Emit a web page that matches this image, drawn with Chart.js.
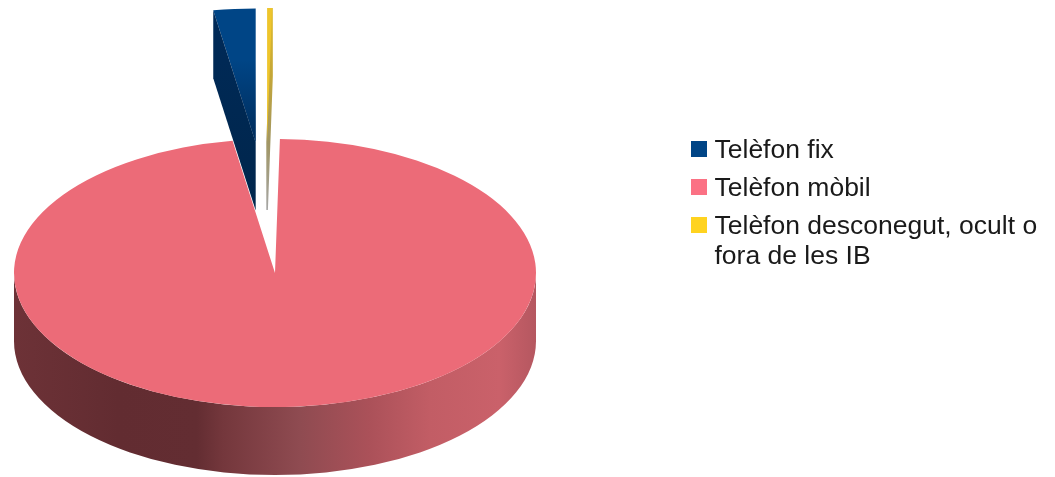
<!DOCTYPE html>
<html>
<head>
<meta charset="utf-8">
<script src="https://cdn.jsdelivr.net/npm/chart.js@4"></script>
<style>
  html, body { margin: 0; padding: 0; background: #fff; }
  canvas { display: block; }
</style>
</head>
<body>
<canvas id="pie" width="1055" height="477"></canvas>
<script>
// Share of calls by phone type (percent)
const categories = ['Telèfon fix', 'Telèfon mòbil', ['Telèfon desconegut, ocult o', 'fora de les IB']];
const shares = [2.6, 97.1, 0.3];
const faceColors = ['#004586', '#ec6b78', '#eec52c'];
const swatchColors = ['#004586', '#fb7184', '#ffd320'];

// Projection of the tilted disc
const discBox = { left: 14, right: 536, top: 12, bottom: 534 };
const tilt = 0.5134;
const depth = 68;
const explode = [255, 0, 255];
const drift = [1.5, 0, -10.3];
const legendAnchor = { left: 696.75, top: 137.25 };

// Legend marker: the square sits at the top so it lines up with the first text line
function swatch(color) {
  const c = document.createElement('canvas');
  c.width = 16; c.height = 19;
  const g = c.getContext('2d');
  g.fillStyle = color;
  g.fillRect(0, 0, 16, 16);
  return c;
}

// Straight cut face of a pulled-out wedge, extruded from one of its edges
function drawCutFace(ctx, arc, i, cx, cy, edgeAngle, colors, outline) {
  const mid = (arc.startAngle + arc.endAngle) / 2;
  const tipX = cx - Math.cos(mid) * explode[i] + drift[i];
  const tipY = cy + Math.sin(mid) * explode[i] * tilt;
  const rimX = tipX - Math.cos(edgeAngle) * arc.outerRadius;
  const rimY = tipY + Math.sin(edgeAngle) * arc.outerRadius * tilt;
  const g = ctx.createLinearGradient(0, rimY, 0, tipY + depth);
  colors.forEach((c, k) => g.addColorStop(k / (colors.length - 1), c));
  ctx.fillStyle = g;
  ctx.beginPath();
  ctx.moveTo(rimX, rimY);
  ctx.lineTo(rimX, rimY + depth);
  ctx.lineTo(tipX, tipY + depth);
  ctx.lineTo(tipX, tipY);
  ctx.closePath();
  ctx.fill();
  if (outline) {
    ctx.strokeStyle = g;
    ctx.lineWidth = outline;
    ctx.stroke();
  }
}

// Top face of a wedge darkens towards its point
function shadeTowardsTip(ctx, arc, i, cx, cy) {
  const mid = (arc.startAngle + arc.endAngle) / 2;
  const tipX = cx - Math.cos(mid) * explode[i] + drift[i];
  const tipY = cy + Math.sin(mid) * explode[i] * tilt;
  const rimX = tipX - Math.cos(arc.endAngle) * arc.outerRadius;
  const rimY = tipY + Math.sin(arc.endAngle) * arc.outerRadius * tilt;
  const g = ctx.createLinearGradient(0, rimY + 50, 0, tipY);
  g.addColorStop(0, 'rgba(0,35,75,0)');
  g.addColorStop(1, 'rgba(0,35,75,0.75)');
  ctx.fillStyle = g;
  ctx.beginPath();
  ctx.moveTo(rimX, rimY);
  ctx.lineTo(tipX, rimY);
  ctx.lineTo(tipX, tipY);
  ctx.closePath();
  ctx.fill();
}

// Curved front wall of the main slice
function drawRim(ctx, arc) {
  const cx = arc.x, cy = arc.y, rx = arc.outerRadius, ry = rx * tilt;
  const g = ctx.createLinearGradient(cx - rx, 0, cx + rx, 0);
  g.addColorStop(0, '#6d3237');
  g.addColorStop(0.2, '#622c31');
  g.addColorStop(0.35, '#632d32');
  g.addColorStop(0.4, '#74373c');
  g.addColorStop(0.548, '#8f4b51');
  g.addColorStop(0.68, '#ab5159');
  g.addColorStop(0.797, '#c25d65');
  g.addColorStop(0.93, '#ca616a');
  g.addColorStop(1, '#b55760');
  ctx.fillStyle = g;
  ctx.beginPath();
  ctx.ellipse(cx, cy + depth, rx, ry, 0, 0, Math.PI);
  ctx.ellipse(cx, cy, rx, ry, 0, Math.PI, 0, true);
  ctx.closePath();
  ctx.fill();
}

const tiltedDisc = {
  id: 'tiltedDisc',
  afterLayout(chart) {
    Object.assign(chart.chartArea, discBox);
    chart.chartArea.width = discBox.right - discBox.left;
    chart.chartArea.height = discBox.bottom - discBox.top;
    chart.legend.left = legendAnchor.left - chart.legend.options.labels.padding;
    chart.legend.top = legendAnchor.top - chart.legend.options.labels.padding;
  },
  beforeDatasetDraw(chart, args) {
    const ctx = chart.ctx;
    const arcs = args.meta.data;
    const cx = arcs[0].x, cy = arcs[0].y;
    const drawFace = (i) => {
      const arc = arcs[i];
      const mid = (arc.startAngle + arc.endAngle) / 2;
      ctx.save();
      // Slices run counter-clockwise from twelve o'clock
      ctx.translate(cx + drift[i], cy);
      ctx.scale(-1, tilt);
      ctx.translate(-cx, -cy);
      ctx.translate(Math.cos(mid) * explode[i], Math.sin(mid) * explode[i]);
      arc.draw(ctx);
      ctx.restore();
    };
    // Back to front: the pulled-out wedges sit behind the main slice
    drawFace(0);
    shadeTowardsTip(ctx, arcs[0], 0, cx, cy);
    drawCutFace(ctx, arcs[0], 0, cx, cy, arcs[0].endAngle, ['#002a58', '#00264c']);
    drawCutFace(ctx, arcs[2], 2, cx, cy, arcs[2].startAngle, ['#e0bc2c', '#c4a636', '#a09563', '#a6a6a6'], 1.6);
    drawFace(2);
    drawRim(ctx, arcs[1]);
    drawFace(1);
    return false;
  }
};

new Chart(document.getElementById('pie'), {
  type: 'pie',
  data: {
    labels: categories,
    datasets: [{ data: shares, backgroundColor: faceColors, borderWidth: 0 }]
  },
  options: {
    responsive: false,
    animation: false,
    rotation: 0,
    plugins: {
      tooltip: { enabled: false },
      legend: {
        position: 'right',
        align: 'start',
        labels: {
          color: '#1a1a1a',
          font: { family: '"Liberation Sans"', size: 26.5, lineHeight: 1.132 },
          padding: 11.5,
          usePointStyle: true,
          pointStyleWidth: 4.5,
          boxHeight: 16,
          generateLabels(chart) {
            const items = Chart.overrides.pie.plugins.legend.labels.generateLabels(chart);
            items.forEach((item, i) => { item.pointStyle = swatch(swatchColors[i]); });
            return items;
          }
        }
      }
    }
  },
  plugins: [tiltedDisc]
});
</script>
</body>
</html>
